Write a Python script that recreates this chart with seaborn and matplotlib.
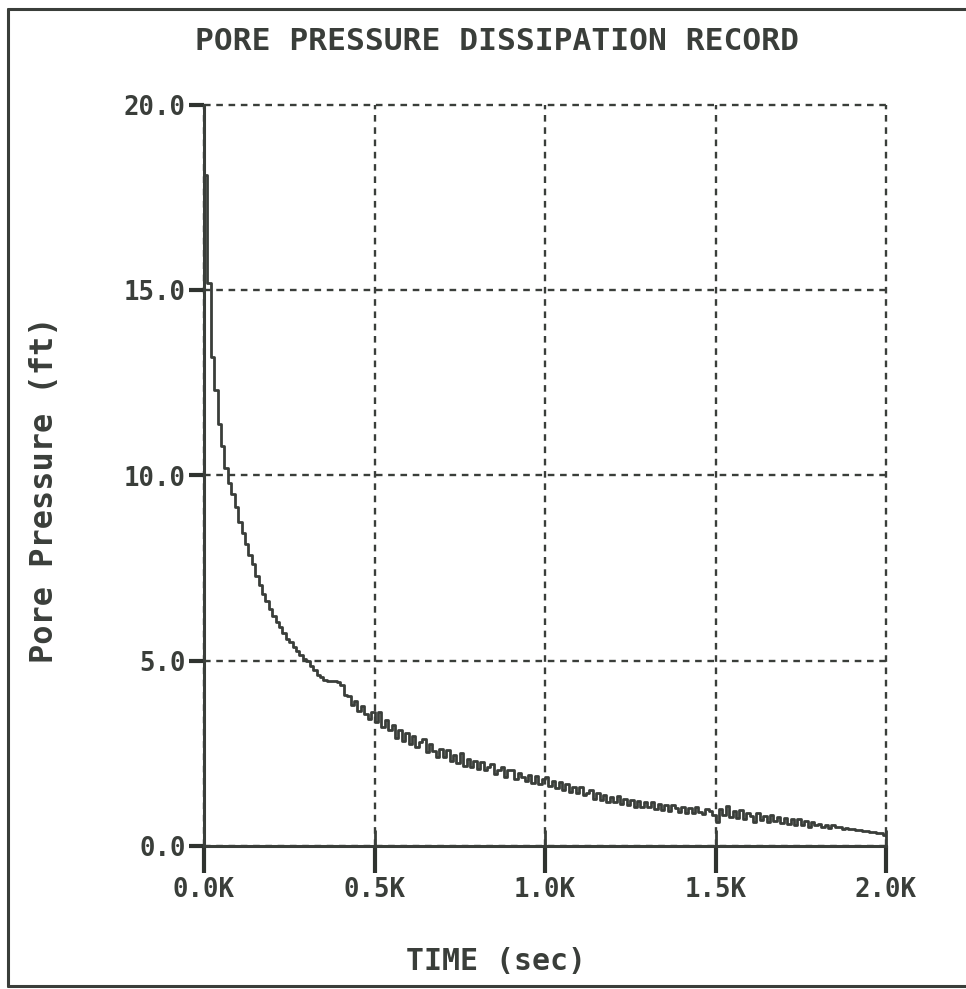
import numpy as np
import pandas as pd
import matplotlib
matplotlib.use("Agg")
import matplotlib.pyplot as plt
import seaborn as sns
from matplotlib.lines import Line2D
from matplotlib.ticker import FixedLocator

# pore pressure (ft) read every 10 s, one row per 100 s
pressure_ft = [
    18.10, 15.20, 13.20, 12.30, 11.40, 10.80, 10.20, 9.80, 9.50, 9.15,
    8.75, 8.45, 8.15, 7.85, 7.60, 7.30, 7.05, 6.80, 6.60, 6.40,
    6.20, 6.05, 5.90, 5.75, 5.60, 5.50, 5.37, 5.25, 5.15, 5.05,
    4.98, 4.85, 4.75, 4.62, 4.55, 4.48, 4.45, 4.46, 4.44, 4.43,
    4.34, 4.08, 4.04, 3.80, 3.92, 3.64, 3.78, 3.56, 3.44, 3.62,
    3.36, 3.62, 3.22, 3.40, 3.12, 3.26, 2.92, 3.12, 2.84, 3.06,
    2.76, 2.96, 2.68, 2.82, 2.90, 2.54, 2.74, 2.56, 2.40, 2.62,
    2.40, 2.58, 2.30, 2.46, 2.24, 2.50, 2.16, 2.34, 2.12, 2.30,
    2.08, 2.28, 2.04, 2.14, 2.22, 1.94, 2.06, 2.12, 1.86, 2.04,
    2.04, 1.82, 1.98, 1.86, 1.76, 1.92, 1.70, 1.88, 1.66, 1.82,
    1.86, 1.62, 1.76, 1.56, 1.72, 1.50, 1.66, 1.46, 1.60, 1.42,
    1.58, 1.38, 1.44, 1.50, 1.28, 1.42, 1.24, 1.38, 1.20, 1.32,
    1.18, 1.34, 1.14, 1.28, 1.10, 1.24, 1.06, 1.22, 1.04, 1.18,
    1.04, 1.18, 1.00, 1.14, 0.98, 1.12, 0.94, 1.10, 1.02, 0.92,
    1.06, 0.90, 1.03, 0.88, 1.04, 0.93, 0.86, 1.00, 0.94, 0.84,
    0.66, 1.00, 0.84, 1.08, 0.78, 0.94, 0.76, 0.96, 0.72, 0.88,
    0.82, 0.66, 0.88, 0.70, 0.80, 0.64, 0.84, 0.68, 0.78, 0.62,
    0.76, 0.60, 0.72, 0.56, 0.74, 0.58, 0.68, 0.52, 0.66, 0.58,
    0.60, 0.52, 0.58, 0.48, 0.56, 0.50, 0.52, 0.47, 0.49, 0.45,
    0.46, 0.44, 0.44, 0.41, 0.40, 0.38, 0.37, 0.36, 0.34, 0.30,
    0.28,
]
sample_step_s = 10
time_s = np.arange(len(pressure_ft)) * sample_step_s

x_ticks = [0, 500, 1000, 1500, 2000]
x_tick_labels = ["0.0K", "0.5K", "1.0K", "1.5K", "2.0K"]
y_ticks = [0, 5, 10, 15, 20]
y_tick_labels = ["0.0", "5.0", "10.0", "15.0", "20.0"]

ink = "#3a3e3a"

sns.set_style("white")
plt.rcParams["font.family"] = ["DejaVu Sans Mono", "DejaVu Sans"]
plt.rcParams["font.weight"] = "bold"

fig = plt.figure(figsize=(9.66, 9.89), dpi=100)
ax = fig.add_axes([204 / 966, 143 / 989, 682 / 966, 741 / 989])

df = pd.DataFrame({"time": time_s, "pressure": pressure_ft})
sns.lineplot(data=df, x="time", y="pressure", ax=ax, color=ink,
             linewidth=2.0, drawstyle="steps-post", estimator=None, zorder=3)

ax.set_xlim(0, 2000)
ax.set_ylim(0, 20)
ax.set_xticks(x_ticks)
ax.set_xticklabels(x_tick_labels)
ax.set_yticks(y_ticks)
ax.set_yticklabels(y_tick_labels)
ax.set_xlabel("")
ax.set_ylabel("")

# solid stubs of the x ticks reaching into the plot
ax.xaxis.set_minor_locator(FixedLocator(x_ticks))
ax.xaxis.remove_overlapping_locs = False

ax.grid(True, which="major", color=ink, linewidth=1.7, linestyle=(0, (2.8, 2.4)))
for gl in ax.get_xgridlines() + ax.get_ygridlines():
    gl.set_clip_on(False)

for side in ["top", "right"]:
    ax.spines[side].set_visible(False)
for side in ["left", "bottom"]:
    ax.spines[side].set_color(ink)
    ax.spines[side].set_linewidth(2.2)
    ax.spines[side].set_zorder(4)

ax.tick_params(axis="x", which="major", bottom=True, direction="out", length=19.5,
               width=3, color="#2f332f", labelsize=18.5, labelcolor=ink, pad=3)
ax.tick_params(axis="x", which="minor", bottom=True, direction="in", length=11.5,
               width=2.0, color=ink)
ax.tick_params(axis="y", left=True, direction="out", length=11, width=3,
               color="#2f332f", labelsize=18.5, labelcolor=ink, pad=2)
for t in ax.xaxis.get_major_ticks() + ax.yaxis.get_major_ticks():
    t.tick1line.set_visible(True)
    t.tick1line.set_clip_on(False)
    t.tick1line.set_markeredgecolor("#2f332f")
    t.tick1line.set_markeredgewidth(3)

fig.text(497 / 966, 1 - 41 / 989, "PORE PRESSURE DISSIPATION RECORD",
         ha="center", va="center", fontsize=22.5, color=ink, fontweight="bold")
fig.text(496 / 966, 1 - 962 / 989, "TIME (sec)",
         ha="center", va="center", fontsize=21.5, color=ink, fontweight="bold")
fig.text(45 / 966, 1 - 490 / 989, "Pore Pressure (ft)", rotation=90,
         ha="center", va="center", fontsize=23, color=ink, fontweight="bold")

# page frame around the whole record
fig.add_artist(Line2D([8 / 966, 8 / 966], [1 - 9 / 989, 1 - 986 / 989],
                      transform=fig.transFigure, color=ink, linewidth=2.2))
fig.add_artist(Line2D([8 / 966, 1.0], [1 - 9 / 989, 1 - 9 / 989],
                      transform=fig.transFigure, color=ink, linewidth=2.2))
fig.add_artist(Line2D([8 / 966, 1.0], [1 - 986 / 989, 1 - 986 / 989],
                      transform=fig.transFigure, color=ink, linewidth=2.2))

fig.savefig("out.png", dpi=100, facecolor="white")
